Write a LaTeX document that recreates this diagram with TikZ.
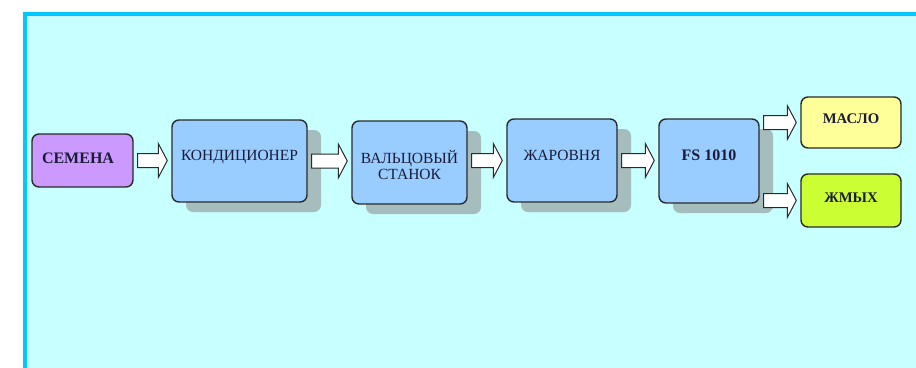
\documentclass[tikz,border=0pt]{standalone}
\usepackage{fontspec}
\setmainfont{Liberation Serif}
\usetikzlibrary{calc,shadows}
\definecolor{framec}{HTML}{00C8FF}
\definecolor{bgc}{HTML}{C8FFFF}
\definecolor{bluec}{HTML}{99CCFF}
\definecolor{purplec}{HTML}{CC99FF}
\definecolor{yellowc}{HTML}{FFFF99}
\definecolor{greenc}{HTML}{CCFF33}
\definecolor{shadowc}{HTML}{A6BDBD}
\definecolor{textc}{HTML}{1C1C38}
\definecolor{edgec}{HTML}{2A2A2A}
\begin{document}
\begin{tikzpicture}[x=1pt,y=-1pt,
  box/.style={draw=edgec, line width=1.4pt, rounded corners=7pt, inner sep=0pt},
  bigbox/.style={box, fill=bluec, general shadow={fill=shadowc, shadow xshift=14pt, shadow yshift=-10pt}},
  lbl/.style={anchor=base, text=textc, font=\fontsize{15.5}{16}\selectfont, inner sep=0pt, align=center},
  blbl/.style={lbl, font=\fontsize{16}{17}\selectfont\bfseries},
  oblbl/.style={lbl, font=\fontsize{14.7}{16}\selectfont\bfseries},
  barrow/.style={draw=edgec, fill=white, line width=1pt, line join=miter, to path={
    ($(\tikztostart)+(4,-7)$) -- ($(\tikztotarget)+(-13,-7)$) -- ($(\tikztotarget)+(-13,-17)$)
    -- ($(\tikztotarget)+(-4,0)$) -- ($(\tikztotarget)+(-13,17)$) -- ($(\tikztotarget)+(-13,7)$)
    -- ($(\tikztostart)+(4,7)$) -- cycle}}
]
\useasboundingbox (0,0) rectangle (916,367);
\begin{scope}
\clip (0,0) rectangle (916,367);
\draw[line width=4pt, draw=framec, fill=bgc] (25,14) rectangle (960,420);
\end{scope}

\node[box, fill=purplec, minimum width=101pt, minimum height=53pt] (sem) at (82.5,160.5) {};
\node[bigbox, minimum width=135pt, minimum height=82pt] (kond) at (239.5,161) {};
\node[bigbox, minimum width=115pt, minimum height=83pt] (valc) at (409.5,162.5) {};
\node[bigbox, minimum width=110pt, minimum height=83pt] (zhar) at (562,160.5) {};
\node[bigbox, minimum width=100pt, minimum height=84pt] (fs) at (709,161) {};
\node[box, fill=yellowc, minimum width=100pt, minimum height=51pt] (masl) at (851,122.5) {};
\node[box, fill=greenc, minimum width=100pt, minimum height=53pt] (zhm) at (851,200.5) {};

\node[blbl] (tsem) at ($(sem.center)+(-4.5,3)$) {СЕМЕНА};
\node[lbl] (tkond) at ($(kond.center)+(0,-0.5)$) {КОНДИЦИОНЕР};
\node[lbl, anchor=center] (tvalc) at ($(valc.center)+(0,2.5)$) {ВАЛЬЦОВЫЙ\\СТАНОК};
\node[lbl] (tzhar) at ($(zhar.center)+(0,0)$) {ЖАРОВНЯ};
\node[blbl] (tfs) at ($(fs.center)+(0,-0.5)$) {FS 1010};
\node[oblbl] (tmasl) at ($(masl.center)+(0,0.5)$) {МАСЛО};
\node[oblbl] (tzhm) at ($(zhm.center)+(0,1.5)$) {ЖМЫХ};

\draw[barrow] (sem.east) to (sem.east -| kond.west);
\draw[barrow] (kond.east) to (kond.east -| valc.west);
\draw[barrow] (valc.east |- zhar.west) to (zhar.west);
\draw[barrow] (zhar.east) to (zhar.east -| fs.west);
\draw[barrow] (fs.east |- masl.west) to (masl.west);
\draw[barrow] (fs.east |- zhm.west) to (zhm.west);
\end{tikzpicture}
\end{document}
